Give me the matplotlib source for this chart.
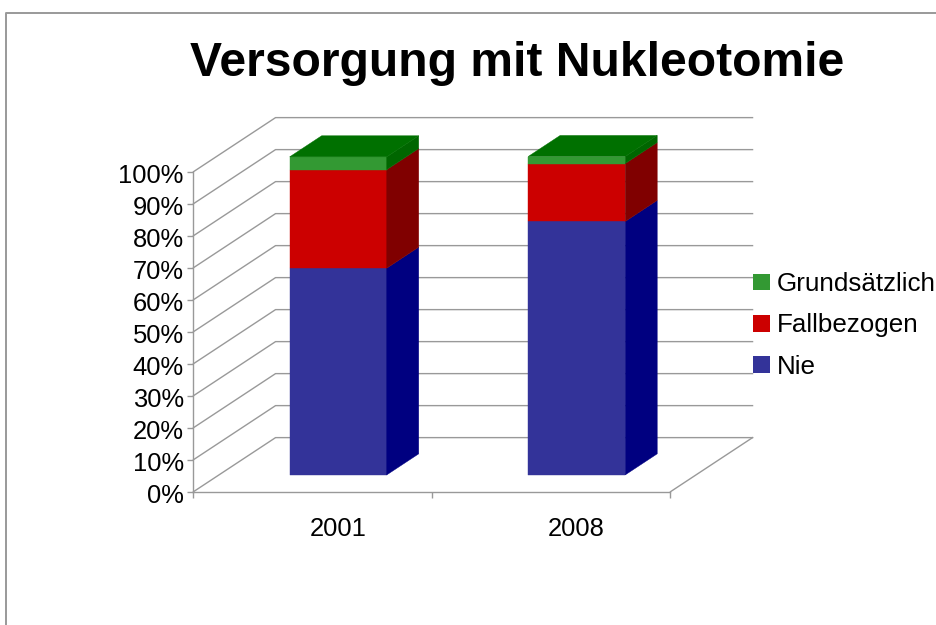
import matplotlib

matplotlib.use("Agg")
import matplotlib.pyplot as plt
from matplotlib.lines import Line2D
from matplotlib.patches import Patch
from matplotlib.transforms import ScaledTranslation

# values (percent)
years = ["2001", "2008"]
nie = [64.6, 79.2]
fallbezogen = [30.8, 18.1]
grundsaetzlich = [4.0, 2.2]
series_names = ["Nie", "Fallbezogen", "Grundsätzlich"]
y_ticks = [0, 10, 20, 30, 40, 50, 60, 70, 80, 90, 100]

front_colors = ["#333399", "#CC0000", "#339933"]
side_colors = ["#000080", "#800000", "#006600"]
top_color = "#007000"
grid_color = "#999999"

# fake 3d: how far the back wall is shifted, in data units
DX = 0.344
DY = 16.9
BAR_W = 0.407
D_FRONT = 0.31
D_BACK = 0.70


def proj(x, y, d):
    return x + d * DX, y + d * DY


def face(ax, pts, color, z):
    xs = [p[0] for p in pts]
    ys = [p[1] for p in pts]
    ax.fill(xs, ys, color=color, lw=0.3, clip_on=False, zorder=z)


plt.rcParams["font.family"] = ["Liberation Sans", "DejaVu Sans"]

W, H = 937, 625
fig = plt.figure(figsize=(W / 100, H / 100), dpi=100)
ax = fig.add_axes([193.5 / W, (H - 491.7) / H, 477 / W, 320 / H])
ax.set_xlim(0, 2)
ax.set_ylim(0, 100)

# walls and floor
for t in y_ticks:
    x1, y1 = proj(0, t, 1)
    x2, y2 = proj(2, t, 1)
    ax.plot([0, x1, x2], [t, y1, y2], color=grid_color, lw=1, clip_on=False, zorder=1)
x1, y1 = proj(2, 0, 1)
ax.plot([2, x1], [0, y1], color=grid_color, lw=1, clip_on=False, zorder=1)

# bars
for i in range(len(years)):
    left = i + 0.5 - BAR_W / 2
    right = i + 0.5 + BAR_W / 2
    base = 0
    for j, vals in enumerate([nie, fallbezogen, grundsaetzlich]):
        top = base + vals[i]
        y0 = proj(0, base, D_FRONT)[1]
        y1 = proj(0, top, D_FRONT)[1]
        x_l = proj(left, 0, D_FRONT)[0]
        x_r = proj(right, 0, D_FRONT)[0]
        face(ax, [(x_l, y0), (x_r, y0), (x_r, y1), (x_l, y1)], front_colors[j], 3 + j)
        face(
            ax,
            [
                proj(right, base, D_FRONT),
                proj(right, base, D_BACK),
                proj(right, top, D_BACK),
                proj(right, top, D_FRONT),
            ],
            side_colors[j],
            3 + j,
        )
        base = top
    face(
        ax,
        [
            proj(left, base, D_FRONT),
            proj(right, base, D_FRONT),
            proj(right, base, D_BACK),
            proj(left, base, D_BACK),
        ],
        top_color,
        7,
    )

# axes
for s in ["top", "right"]:
    ax.spines[s].set_visible(False)
for s in ["left", "bottom"]:
    ax.spines[s].set_color(grid_color)
    ax.spines[s].set_linewidth(1)
ax.set_yticks(y_ticks)
ax.set_yticklabels([f"{t}%" for t in y_ticks], fontsize=18.4)
ax.tick_params(axis="y", length=4.5, width=1, color=grid_color, pad=2.5)
# labels sit a little lower than the ticks
down = ScaledTranslation(0, -1.5 / 72, fig.dpi_scale_trans)
for lab in ax.get_yticklabels():
    lab.set_transform(lab.get_transform() + down)
ax.set_xticks([0, 1, 2], minor=True)
ax.set_xticks([proj(i + 0.5, 0, D_FRONT)[0] for i in range(len(years))])
ax.set_xticklabels(years, fontsize=18.4)
ax.tick_params(axis="x", which="minor", length=4, width=1, color=grid_color)
ax.tick_params(axis="x", which="major", length=0, pad=18)

fig.text(517 / W, 1 - 76 / H, "Versorgung mit Nukleotomie", fontsize=34.6, fontweight="bold",
         ha="center", va="baseline")

handles = [Patch(facecolor=front_colors[j], edgecolor="none") for j in (2, 1, 0)]
labels = [series_names[j] for j in (2, 1, 0)]
fig.legend(
    handles,
    labels,
    loc="upper left",
    bbox_to_anchor=(753 / W, 1 - 272 / H),
    frameon=False,
    fontsize=18.7,
    borderpad=0,
    borderaxespad=0,
    handlelength=0.65,
    handleheight=0.61,
    handletextpad=0.27,
    labelspacing=0.67,
)

# frame of the slide, only top and left are visible
fig.add_artist(Line2D([6.5 / W, 6.5 / W, 1], [0, 1 - 13 / H, 1 - 13 / H], color="#999999", lw=1.4))

fig.savefig("out.png", dpi=100)
